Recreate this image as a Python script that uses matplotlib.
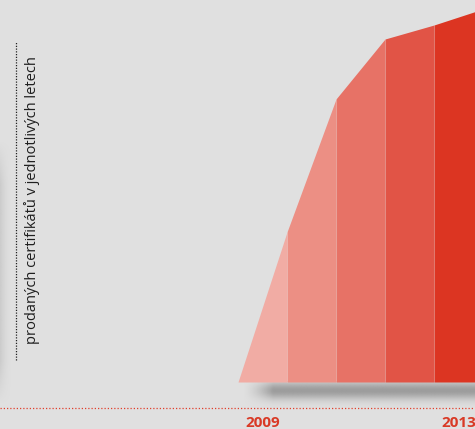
import numpy as np
import matplotlib.pyplot as plt

plt.rcParams['font.family'] = ['Open Sans', 'DejaVu Sans']

# years shown as bands, value at every band edge (arbitrary units)
years = [2009, 2010, 2011, 2012, 2013]
edge_values = [0, 150, 283, 343, 357, 373]
band_colors = ['#F1ACA4', '#EC8F84', '#E77266', '#E15446', '#DC3522']
year_labels = ['2009', '', '', '', '2013']
ylabel = 'prodaných certifikátů v jednotlivých letech'

W, H = 475, 429
bg = '#E0E0E0'
px = 49.0  # pixels per year band

fig = plt.figure(figsize=(W / 100, H / 100), dpi=100, facecolor=bg)
ax = fig.add_axes([0, 0, 1, 1])
ax.set_facecolor(bg)
x0 = 238.0
ax.set_xlim(-x0 / px, (W - x0) / px)
ax.set_ylim(-47, H - 47)
ax.axis('off')

# soft shadow under the bars
sx = np.linspace(0, 1, 300)
sy = np.linspace(0, 1, 80)
fade_x = np.clip((sx - 0.01) * 8, 0, 1) ** 1.5
shade = np.exp(-((sy - 0.35) / 0.33) ** 2)[:, None] * fade_x[None, :]
shadow = np.ones((80, 300, 4))
shadow[..., :3] = 0.6
shadow[..., 3] = 0.95 * shade
ax.imshow(shadow, extent=(0.05, (W - x0) / px + 0.2, -26, 1), aspect='auto',
          interpolation='bilinear', zorder=1)

# left edge shadow
lx = np.linspace(0, 1, 40)
ly = np.linspace(0, 1, 100)
lshade = np.ones((100, 40, 4))
lshade[..., :3] = 0.6
vert = np.clip(np.minimum(ly, 1 - ly) * 6, 0, 1)
lshade[..., 3] = 0.3 * vert[:, None] * ((1 - lx) ** 2)[None, :]
ax.imshow(lshade, extent=(-x0 / px, -x0 / px + 12 / px, 382 - 405, 382 - 140),
          aspect='auto', interpolation='bilinear', zorder=1)

# the bands
for i, yr in enumerate(years):
    xs = [i, i + 1]
    ax.fill_between(xs, [0, 0], edge_values[i:i + 2], color=band_colors[i],
                    lw=0, zorder=2)
    if i > 0:
        ax.plot([i, i], [0, edge_values[i]], color='white', alpha=0.12, lw=0.8, zorder=3)
    ax.text(i + 0.5, -45, year_labels[i], ha='center', va='baseline',
            fontsize=11, fontweight='bold', color='#D93A26', zorder=4)

# red dotted base line
ax.plot([-x0 / px, (W - x0) / px], [-26, -26], color='#E0402C', lw=0.9,
        ls=(0, (1, 1.6)), zorder=3)

# left label with dotted rule
lx0 = (16 - x0) / px
ax.plot([lx0, lx0], [382 - 360, 382 - 42], color='#222222', lw=0.9,
        ls=(0, (1, 1.2)), zorder=3)
ax.text((32 - x0) / px, 382 - 200, ylabel, rotation=90, ha='center', va='center',
        fontsize=10.5, color='#1E1E1E', zorder=4)

fig.savefig('out.png', dpi=100, facecolor=bg)
